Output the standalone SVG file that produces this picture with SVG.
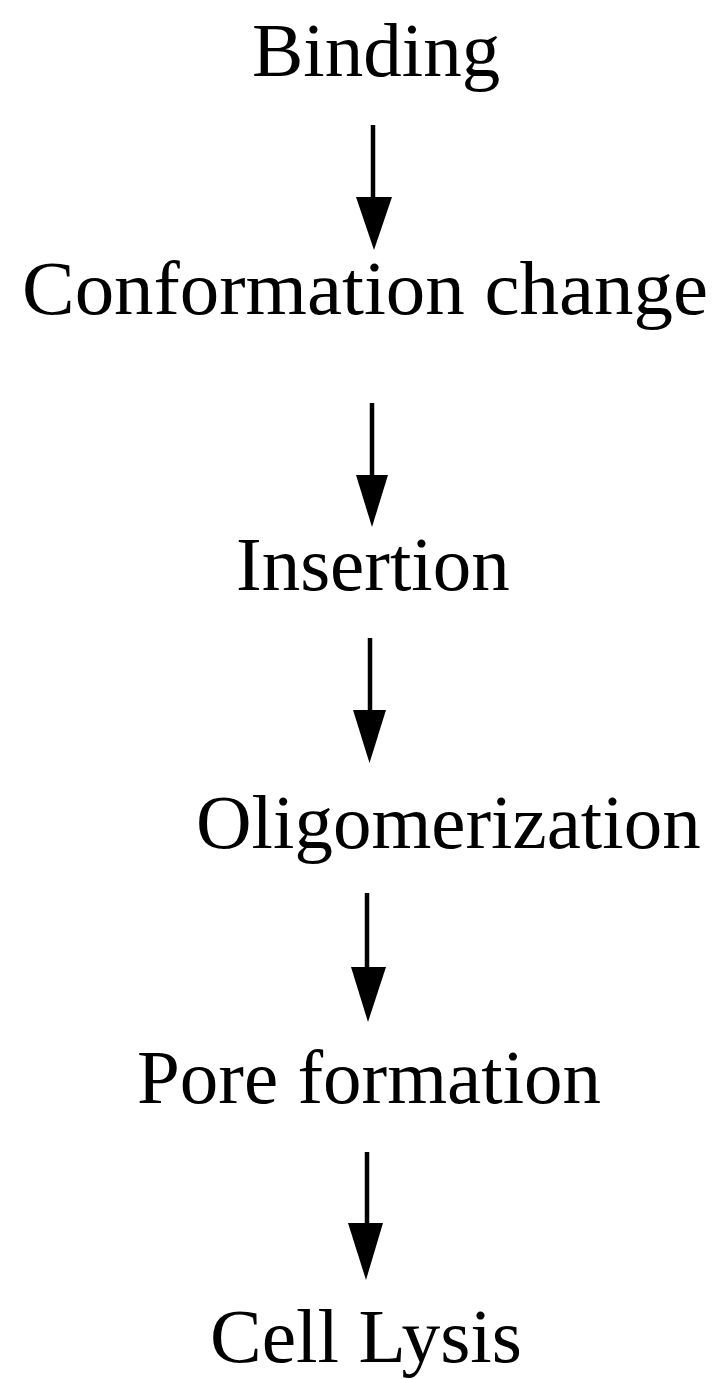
<svg xmlns="http://www.w3.org/2000/svg" width="718" height="1379" viewBox="0 0 718 1379">
<style>
.lbl{font-family:"Liberation Serif","Times New Roman",serif;font-size:77px;fill:#000}
.ln{stroke:#000;stroke-width:4.5;fill:none}
.hd{fill:#000}
</style>
<rect width="718" height="1379" fill="#fff"/>
<g id="n1"><text class="lbl" x="252" y="76">Binding</text></g>
<g id="n2"><text class="lbl" x="22" y="314" textLength="686" lengthAdjust="spacingAndGlyphs">Conformation change</text></g>
<g id="n3"><text class="lbl" x="236" y="590">Insertion</text></g>
<g id="n4"><text class="lbl" x="196" y="848">Oligomerization</text></g>
<g id="n5"><text class="lbl" x="137" y="1103">Pore formation</text></g>
<g id="n6"><text class="lbl" x="210" y="1362" textLength="312" lengthAdjust="spacingAndGlyphs">Cell Lysis</text></g>
<g id="connectors">
<line class="ln" x1="373" y1="125" x2="373" y2="200"/><polygon class="hd" points="356,197 392,197 374,250"/>
<line class="ln" x1="372" y1="403" x2="372" y2="478"/><polygon class="hd" points="356,475 388,475 372,527"/>
<line class="ln" x1="370" y1="638" x2="370" y2="713"/><polygon class="hd" points="353,710 386,710 369.5,763"/>
<line class="ln" x1="367" y1="893" x2="367" y2="970"/><polygon class="hd" points="351,967 386,967 368,1022"/>
<line class="ln" x1="367" y1="1152" x2="367" y2="1226"/><polygon class="hd" points="348,1223 383,1223 366,1280"/>
</g>
</svg>
